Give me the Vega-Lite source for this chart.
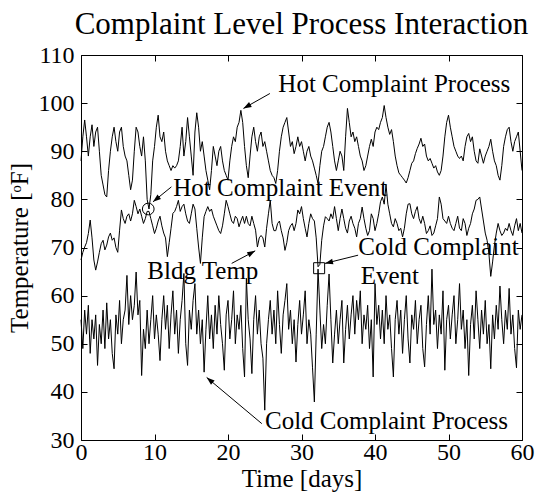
{
"$schema": "https://vega.github.io/schema/vega-lite/v6.json",
"width": 441, "height": 385,
"autosize": {"type": "none"},
"padding": {"left": 81, "top": 55, "right": 14, "bottom": 61},
"background": "white",
"title": {"text": "Complaint Level Process Interaction", "fontSize": 31, "font": "Liberation Serif", "fontWeight": "normal", "color": "black", "anchor": "middle", "offset": 2},
"config": {"view": {"stroke": "black", "strokeWidth": 1},
  "axis": {"labelFont": "Liberation Serif", "titleFont": "Liberation Serif", "labelFontSize": 24, "titleFontSize": 25, "labelColor": "black", "titleColor": "black", "titleFontWeight": "normal", "tickColor": "black", "domain": false, "grid": false, "tickSize": -6, "labelPadding": 9, "labelFlush": false, "labelOverlap": false}},
"datasets": {
"series": [
{"t":0,"h":88,"b":67.4,"c":55},{"t":0.25,"h":93,"b":69,"c":49},{"t":0.5,"h":96.5,"b":70.1,"c":57},{"t":0.75,"h":93,"b":71,"c":52},
{"t":1,"h":89,"b":72.9,"c":58},{"t":1.25,"h":93,"b":75.7,"c":48},{"t":1.5,"h":95.5,"b":72,"c":55},{"t":1.75,"h":91,"b":67.4,"c":51},
{"t":2,"h":94,"b":65.3,"c":56},{"t":2.25,"h":95,"b":67,"c":45.5},{"t":2.5,"h":90,"b":69,"c":54},{"t":2.75,"h":85,"b":70.8,"c":50},
{"t":3,"h":83,"b":71.5,"c":57},{"t":3.25,"h":81,"b":69.5,"c":49},{"t":3.5,"h":80.5,"b":70.5,"c":58.5},{"t":3.75,"h":86,"b":72.2,"c":51},
{"t":4,"h":90,"b":73,"c":55},{"t":4.25,"h":93,"b":71.5,"c":48},{"t":4.5,"h":95,"b":72,"c":44.8},{"t":4.75,"h":92,"b":70,"c":56},
{"t":5,"h":90,"b":69,"c":52},{"t":5.25,"h":94,"b":73.6,"c":59},{"t":5.5,"h":95,"b":77.8,"c":50},{"t":5.75,"h":91,"b":76,"c":55},
{"t":6,"h":89,"b":75,"c":57},{"t":6.25,"h":88,"b":76.5,"c":64.2},{"t":6.5,"h":85,"b":77,"c":54},{"t":6.75,"h":82,"b":75.5,"c":60},
{"t":7,"h":84,"b":77,"c":55},{"t":7.25,"h":90,"b":79.8,"c":58},{"t":7.5,"h":95,"b":78.5,"c":64.9},{"t":7.75,"h":94,"b":77,"c":56},
{"t":8,"h":91,"b":78,"c":59},{"t":8.25,"h":89,"b":76.5,"c":43.4},{"t":8.5,"h":93,"b":75,"c":53},{"t":8.75,"h":88,"b":76,"c":49},
{"t":9,"h":80,"b":77.5,"c":57},{"t":9.25,"h":78,"b":77.5,"c":50},{"t":9.5,"h":81,"b":76,"c":55},{"t":9.75,"h":88,"b":74.5,"c":60},
{"t":10,"h":91,"b":72.9,"c":51},{"t":10.25,"h":95,"b":74,"c":56},{"t":10.5,"h":97.5,"b":75.5,"c":52},{"t":10.75,"h":93,"b":76.5,"c":46.5},
{"t":11,"h":92,"b":74.5,"c":55},{"t":11.25,"h":94,"b":73,"c":60},{"t":11.5,"h":90,"b":72,"c":53},{"t":11.75,"h":88,"b":68.1,"c":58},
{"t":12,"h":87,"b":71,"c":49},{"t":12.25,"h":86,"b":74,"c":56},{"t":12.5,"h":87,"b":77.1,"c":61},{"t":12.75,"h":86.5,"b":77.5,"c":52},
{"t":13,"h":87,"b":78.5,"c":57},{"t":13.25,"h":88,"b":79.8,"c":48},{"t":13.5,"h":91,"b":77.5,"c":55},{"t":13.75,"h":95,"b":78.5,"c":59},
{"t":14,"h":89,"b":79,"c":64.6},{"t":14.25,"h":92,"b":77,"c":50},{"t":14.5,"h":97,"b":75.5,"c":45.5},{"t":14.75,"h":93,"b":75,"c":57},
{"t":15,"h":89,"b":77,"c":53},{"t":15.25,"h":85,"b":79,"c":59},{"t":15.5,"h":94,"b":78,"c":62.5},{"t":15.75,"h":98,"b":74,"c":52},
{"t":16,"h":95,"b":70.1,"c":57},{"t":16.25,"h":90,"b":66.7,"c":50},{"t":16.5,"h":92,"b":72,"c":55},{"t":16.75,"h":89,"b":76.4,"c":44.1},
{"t":17,"h":86,"b":77.5,"c":53},{"t":17.25,"h":84,"b":78.5,"c":60},{"t":17.5,"h":82,"b":77.5,"c":51},{"t":17.75,"h":86,"b":78,"c":56},
{"t":18,"h":91,"b":76.5,"c":49},{"t":18.25,"h":89,"b":75.5,"c":58},{"t":18.5,"h":87,"b":74.5,"c":52},{"t":18.75,"h":90,"b":73.5,"c":60},
{"t":19,"h":91,"b":72.9,"c":54},{"t":19.25,"h":88,"b":74.5,"c":50},{"t":19.5,"h":86,"b":77,"c":44.5},{"t":19.75,"h":85,"b":79.8,"c":56},
{"t":20,"h":84,"b":78.5,"c":59},{"t":20.25,"h":88,"b":77,"c":51},{"t":20.5,"h":91,"b":75.5,"c":55},{"t":20.75,"h":93,"b":75,"c":61},
{"t":21,"h":92,"b":76.5,"c":50},{"t":21.25,"h":95,"b":76,"c":56},{"t":21.5,"h":96,"b":74.3,"c":53},{"t":21.75,"h":98.5,"b":75.5,"c":58},
{"t":22,"h":96,"b":76.5,"c":49},{"t":22.25,"h":91,"b":75,"c":43.1},{"t":22.5,"h":87,"b":76.5,"c":63.6},{"t":22.75,"h":84.5,"b":75,"c":55},
{"t":23,"h":89,"b":74.5,"c":51},{"t":23.25,"h":93,"b":76.5,"c":43.8},{"t":23.5,"h":95,"b":75,"c":55},{"t":23.75,"h":92,"b":73.6,"c":60},
{"t":24,"h":90,"b":70.1,"c":52},{"t":24.25,"h":93,"b":72,"c":57},{"t":24.5,"h":94,"b":72.5,"c":50},{"t":24.75,"h":91,"b":72,"c":47},
{"t":25,"h":92,"b":70.1,"c":36.2},{"t":25.25,"h":90,"b":74,"c":50},{"t":25.5,"h":88,"b":77,"c":55},{"t":25.75,"h":86,"b":79.8,"c":59},
{"t":26,"h":85,"b":75,"c":52},{"t":26.25,"h":84.5,"b":73.5,"c":57},{"t":26.5,"h":83.3,"b":73.5,"c":50},{"t":26.75,"h":86,"b":75,"c":61},
{"t":27,"h":90,"b":75.5,"c":54},{"t":27.25,"h":93,"b":73.5,"c":48},{"t":27.5,"h":95,"b":72,"c":56},{"t":27.75,"h":96,"b":69.4,"c":59},
{"t":28,"h":97,"b":71,"c":62.5},{"t":28.25,"h":94,"b":73.5,"c":53},{"t":28.5,"h":91,"b":74.5,"c":57},{"t":28.75,"h":92,"b":75,"c":50},
{"t":29,"h":89.5,"b":73.5,"c":55},{"t":29.25,"h":91,"b":75,"c":46.2},{"t":29.5,"h":93,"b":77.8,"c":54},{"t":29.75,"h":91,"b":77,"c":59},
{"t":30,"h":92,"b":78.5,"c":52},{"t":30.25,"h":90,"b":76,"c":56},{"t":30.5,"h":88,"b":74,"c":61},{"t":30.75,"h":90,"b":72.2,"c":50},
{"t":31,"h":91,"b":75,"c":55},{"t":31.25,"h":89,"b":77,"c":52},{"t":31.5,"h":88,"b":76,"c":45},{"t":31.75,"h":86.5,"b":75.5,"c":37.9},
{"t":32,"h":85,"b":72,"c":52},{"t":32.25,"h":83.3,"b":66,"c":65.5},{"t":32.5,"h":87,"b":66.5,"c":57},{"t":32.75,"h":90,"b":71.5,"c":49},
{"t":33,"h":91,"b":74.5,"c":54},{"t":33.25,"h":93,"b":76.4,"c":50},{"t":33.5,"h":95,"b":76,"c":58},{"t":33.75,"h":96,"b":75.5,"c":64.5},
{"t":34,"h":94,"b":77,"c":55},{"t":34.25,"h":91,"b":76,"c":46},{"t":34.5,"h":88,"b":78.5,"c":52},{"t":34.75,"h":86,"b":76,"c":57},
{"t":35,"h":88,"b":73.5,"c":50},{"t":35.25,"h":90,"b":76,"c":55},{"t":35.5,"h":89,"b":78,"c":59},{"t":35.75,"h":86,"b":76,"c":46},
{"t":36,"h":93,"b":74,"c":53},{"t":36.25,"h":98.9,"b":73,"c":58},{"t":36.5,"h":96,"b":75.5,"c":51},{"t":36.75,"h":93,"b":76.5,"c":56},
{"t":37,"h":94,"b":75,"c":60},{"t":37.25,"h":92,"b":74,"c":52},{"t":37.5,"h":93,"b":72.2,"c":59},{"t":37.75,"h":91,"b":75,"c":55},
{"t":38,"h":89,"b":76,"c":61},{"t":38.25,"h":88,"b":78.4,"c":50},{"t":38.5,"h":86,"b":76,"c":56},{"t":38.75,"h":87,"b":74,"c":53},
{"t":39,"h":89,"b":72.5,"c":58},{"t":39.25,"h":91,"b":73.5,"c":49},{"t":39.5,"h":92.5,"b":77,"c":55},{"t":39.75,"h":91,"b":76,"c":43.1},
{"t":40,"h":94,"b":73.5,"c":62.5},{"t":40.25,"h":95,"b":75,"c":54},{"t":40.5,"h":94.5,"b":77,"c":58},{"t":40.75,"h":96,"b":79.5,"c":51},
{"t":41,"h":97,"b":80.5,"c":57},{"t":41.25,"h":99.5,"b":79,"c":50},{"t":41.5,"h":97,"b":83,"c":60},{"t":41.75,"h":95,"b":79,"c":53},
{"t":42,"h":93.5,"b":77,"c":56},{"t":42.25,"h":94.5,"b":75,"c":49},{"t":42.5,"h":92,"b":74.3,"c":43.1},{"t":42.75,"h":89,"b":76,"c":55},
{"t":43,"h":87,"b":75,"c":59},{"t":43.25,"h":85.5,"b":73.5,"c":52},{"t":43.5,"h":85,"b":74,"c":57},{"t":43.75,"h":84.5,"b":72.2,"c":48},
{"t":44,"h":84,"b":74,"c":55},{"t":44.25,"h":83.4,"b":77,"c":60},{"t":44.5,"h":84.5,"b":79,"c":51},{"t":44.75,"h":86,"b":79.1,"c":46},
{"t":45,"h":87.5,"b":77,"c":56},{"t":45.25,"h":88,"b":76,"c":53},{"t":45.5,"h":89.5,"b":77.5,"c":59},{"t":45.75,"h":90.6,"b":78.5,"c":50},
{"t":46,"h":91.5,"b":76,"c":55},{"t":46.25,"h":92.7,"b":75,"c":58},{"t":46.5,"h":91,"b":76.5,"c":49},{"t":46.75,"h":91.5,"b":75,"c":45.2},
{"t":47,"h":89,"b":72.9,"c":54},{"t":47.25,"h":88,"b":73.5,"c":60},{"t":47.5,"h":88.5,"b":74.5,"c":52},{"t":47.75,"h":87.5,"b":72.5,"c":65.5},
{"t":48,"h":86.5,"b":73,"c":54},{"t":48.25,"h":87,"b":74.5,"c":57},{"t":48.5,"h":85.7,"b":76,"c":49},{"t":48.75,"h":85,"b":80.5,"c":56},
{"t":49,"h":86,"b":79,"c":52},{"t":49.25,"h":89,"b":76,"c":61},{"t":49.5,"h":93,"b":75.5,"c":44.5},{"t":49.75,"h":96,"b":75,"c":55},
{"t":50,"h":97.5,"b":76.5,"c":58},{"t":50.25,"h":95,"b":75,"c":51},{"t":50.5,"h":93,"b":74,"c":56},{"t":50.75,"h":91,"b":73.5,"c":60},
{"t":51,"h":90,"b":75,"c":50},{"t":51.25,"h":89,"b":76.5,"c":55},{"t":51.5,"h":88.5,"b":74,"c":62.5},{"t":51.75,"h":89,"b":73.5,"c":53},
{"t":52,"h":88,"b":76,"c":57},{"t":52.25,"h":91,"b":75,"c":49},{"t":52.5,"h":93,"b":72.5,"c":55},{"t":52.75,"h":93.7,"b":74,"c":43.4},
{"t":53,"h":92,"b":75,"c":54},{"t":53.25,"h":93,"b":77,"c":58},{"t":53.5,"h":90,"b":78,"c":51},{"t":53.75,"h":88,"b":79.8,"c":61},
{"t":54,"h":87.5,"b":80,"c":55},{"t":54.25,"h":90.5,"b":80.5,"c":49},{"t":54.5,"h":89,"b":78,"c":57},{"t":54.75,"h":87.5,"b":75.5,"c":52},
{"t":55,"h":89,"b":73,"c":59},{"t":55.25,"h":90,"b":71.5,"c":50},{"t":55.5,"h":91,"b":68.7,"c":54},{"t":55.75,"h":92.5,"b":64,"c":44.8},
{"t":56,"h":90,"b":67,"c":56},{"t":56.25,"h":88,"b":70.5,"c":51},{"t":56.5,"h":87,"b":73,"c":58},{"t":56.75,"h":85,"b":75,"c":53},
{"t":57,"h":84,"b":73.5,"c":62},{"t":57.25,"h":87,"b":72.5,"c":55},{"t":57.5,"h":91,"b":73,"c":50},{"t":57.75,"h":93,"b":74,"c":57},
{"t":58,"h":94.5,"b":73.5,"c":53},{"t":58.25,"h":95,"b":75,"c":61.5},{"t":58.5,"h":92,"b":73.5,"c":52},{"t":58.75,"h":90,"b":72.5,"c":56},
{"t":59,"h":92,"b":74.5,"c":49},{"t":59.25,"h":93,"b":76,"c":45},{"t":59.5,"h":94,"b":73.5,"c":57},{"t":59.75,"h":90,"b":75,"c":53},
{"t":60,"h":86,"b":73,"c":56}
],
"notes": [
{"x":26.85,"y":103.9,"label":"Hot Complaint Process"},
{"x":12.56,"y":82.3,"label":"Hot Complaint Event"},
{"x":9.03,"y":65.2,"label":"Bldg Temp"},
{"x":37.73,"y":70.1,"label":"Cold Complaint"},
{"x":38.05,"y":64.1,"label":"Event"},
{"x":25.03,"y":33.9,"label":"Cold Complaint Process"}
],
"arrows": [
{"id":"hp","x":25.7,"y":102.0,"x2":22.1,"y2":98.9},
{"id":"he","x":12.3,"y":82.6,"x2":9.8,"y2":79.5},
{"id":"bt","x":20.5,"y":66.7,"x2":23.7,"y2":69.3},
{"id":"ce","x":37.7,"y":68.4,"x2":33.2,"y2":66.7},
{"id":"cp","x":24.6,"y":33.4,"x2":17.1,"y2":43.0}
],
"events": [
{"t":9.15,"v":78.0,"kind":"circle"},
{"t":32.4,"v":65.7,"kind":"square"}
]
},
"resolve": {"axis": {"x": "independent", "y": "independent"}},
"layer": [
{
"layer": [
{"data": {"name": "series"}, "mark": {"type": "line", "color": "black", "strokeWidth": 1},
 "encoding": {"x": {"field": "t", "type": "quantitative", "title": "Time [days]", "scale": {"domain": [0, 60], "nice": false, "zero": false}, "axis": {"values": [0,10,20,30,40,50,60], "labelPadding": 6, "titlePadding": 2}},
  "y": {"field": "h", "type": "quantitative", "title": "Temperature [ᵒF]", "scale": {"domain": [30, 110], "nice": false, "zero": false}, "axis": {"values": [30,40,50,60,70,80,90,100,110], "labelPadding": 13, "titlePadding": 6}}}},
{"data": {"name": "series"}, "mark": {"type": "line", "color": "black", "strokeWidth": 1},
 "encoding": {"x": {"field": "t", "type": "quantitative", "title": "Time [days]"}, "y": {"field": "b", "type": "quantitative", "title": "Temperature [ᵒF]"}}},
{"data": {"name": "series"}, "mark": {"type": "line", "color": "black", "strokeWidth": 1},
 "encoding": {"x": {"field": "t", "type": "quantitative", "title": "Time [days]"}, "y": {"field": "c", "type": "quantitative", "title": "Temperature [ᵒF]"}}},
{"data": {"name": "events"}, "mark": {"type": "point", "filled": false, "color": "black", "strokeWidth": 1, "opacity": 1},
 "encoding": {"x": {"field": "t", "type": "quantitative", "title": "Time [days]"}, "y": {"field": "v", "type": "quantitative", "title": "Temperature [ᵒF]"},
  "shape": {"field": "kind", "type": "nominal", "scale": {"domain": ["circle", "square"], "range": ["circle", "square"]}, "legend": null},
  "size": {"field": "kind", "type": "nominal", "scale": {"domain": ["circle", "square"], "range": [137, 121]}, "legend": null}}},
{"data": {"name": "arrows"}, "mark": {"type": "rule", "color": "black", "strokeWidth": 1},
 "encoding": {"x": {"field": "x", "type": "quantitative", "title": "Time [days]"}, "y": {"field": "y", "type": "quantitative", "title": "Temperature [ᵒF]"}, "x2": {"field": "x2"}, "y2": {"field": "y2"}}},
{"data": {"name": "arrows"}, "transform": [{"filter": "datum.id == 'hp'"}], "mark": {"type": "point", "shape": "M0,0L-0.35,1L0.35,1Z", "filled": true, "color": "black", "opacity": 1, "size": 256, "angle": 240.7},
 "encoding": {"x": {"field": "x2", "type": "quantitative", "title": "Time [days]"}, "y": {"field": "y2", "type": "quantitative", "title": "Temperature [ᵒF]"}}},
{"data": {"name": "arrows"}, "transform": [{"filter": "datum.id == 'he'"}], "mark": {"type": "point", "shape": "M0,0L-0.35,1L0.35,1Z", "filled": true, "color": "black", "opacity": 1, "size": 256, "angle": 230.8},
 "encoding": {"x": {"field": "x2", "type": "quantitative", "title": "Time [days]"}, "y": {"field": "y2", "type": "quantitative", "title": "Temperature [ᵒF]"}}},
{"data": {"name": "arrows"}, "transform": [{"filter": "datum.id == 'bt'"}], "mark": {"type": "point", "shape": "M0,0L-0.35,1L0.35,1Z", "filled": true, "color": "black", "opacity": 1, "size": 256, "angle": 61.6},
 "encoding": {"x": {"field": "x2", "type": "quantitative", "title": "Time [days]"}, "y": {"field": "y2", "type": "quantitative", "title": "Temperature [ᵒF]"}}},
{"data": {"name": "arrows"}, "transform": [{"filter": "datum.id == 'ce'"}], "mark": {"type": "point", "shape": "M0,0L-0.35,1L0.35,1Z", "filled": true, "color": "black", "opacity": 1, "size": 256, "angle": 256},
 "encoding": {"x": {"field": "x2", "type": "quantitative", "title": "Time [days]"}, "y": {"field": "y2", "type": "quantitative", "title": "Temperature [ᵒF]"}}},
{"data": {"name": "arrows"}, "transform": [{"filter": "datum.id == 'cp'"}], "mark": {"type": "point", "shape": "M0,0L-0.35,1L0.35,1Z", "filled": true, "color": "black", "opacity": 1, "size": 256, "angle": 310},
 "encoding": {"x": {"field": "x2", "type": "quantitative", "title": "Time [days]"}, "y": {"field": "y2", "type": "quantitative", "title": "Temperature [ᵒF]"}}},
{"data": {"name": "notes"}, "mark": {"type": "text", "align": "left", "baseline": "middle", "font": "Liberation Serif", "fontSize": 25, "color": "black"},
 "encoding": {"x": {"field": "x", "type": "quantitative", "title": "Time [days]"}, "y": {"field": "y", "type": "quantitative", "title": "Temperature [ᵒF]"}, "text": {"field": "label"}}}
]
},
{"data": {"values": [{"t": 0, "v": 30}]}, "mark": {"type": "point", "opacity": 0},
 "encoding": {"x": {"field": "t", "type": "quantitative", "scale": {"domain": [0, 60], "nice": false, "zero": false}, "axis": {"orient": "top", "labels": false, "title": null, "values": [0,10,20,30,40,50,60]}},
  "y": {"field": "v", "type": "quantitative", "scale": {"domain": [30, 110], "nice": false, "zero": false}, "axis": {"orient": "right", "labels": false, "title": null, "values": [30,40,50,60,70,80,90,100,110]}}}}
]
}
